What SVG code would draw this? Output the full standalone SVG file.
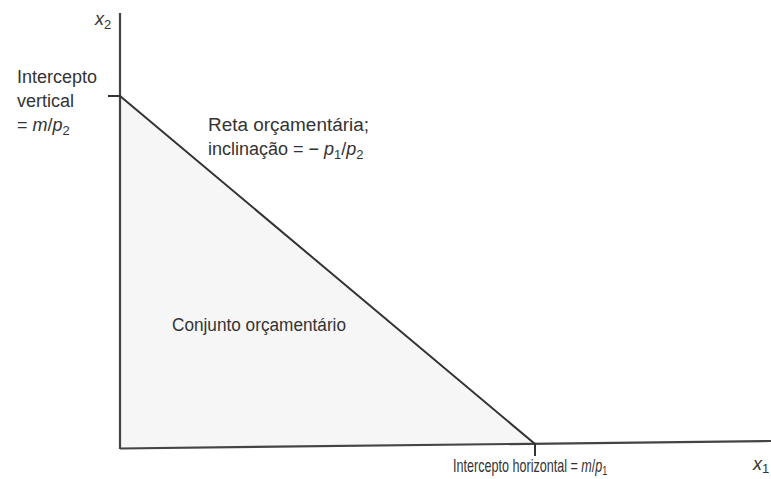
<svg xmlns="http://www.w3.org/2000/svg" width="771" height="479" viewBox="0 0 771 479">
<style>
text{font-family:"Liberation Sans",Arial,sans-serif;font-size:18px;fill:#333;}
.i{font-style:italic;}
.s{font-size:13px;}
.ax{stroke:#444;stroke-width:2.2;fill:none;}
.bl{stroke:#333;stroke-width:2;fill:none;}
</style>
<rect width="771" height="479" fill="#fff"/>
<g id="set">
<polygon points="120,96 535,444 120,448" fill="#f6f6f6"/>
<text x="172" y="331" textLength="174" lengthAdjust="spacingAndGlyphs">Conjunto orçamentário</text>
</g>
<g id="connectors">
<path class="ax" d="M120,13 V449"/>
<path class="ax" d="M120,448.5 L771,441"/>
<path class="bl" d="M108,96 H120 L535,444 V456"/>
</g>
<g id="labels">
<text x="95" y="25" class="i">x<tspan dy="4" class="s" font-style="normal">2</tspan></text>
<text x="17" y="83">Intercepto</text>
<text x="17" y="107">vertical</text>
<text x="17" y="131">= <tspan class="i">m</tspan>/<tspan class="i">p</tspan><tspan dy="4" class="s">2</tspan></text>
<text x="208" y="131" textLength="161" lengthAdjust="spacingAndGlyphs">Reta orçamentária;</text>
<text x="208" y="155">inclinação = − <tspan class="i">p</tspan><tspan dy="4" class="s">1</tspan><tspan dy="-4">/</tspan><tspan class="i">p</tspan><tspan dy="4" class="s">2</tspan></text>
<text transform="translate(453,472) scale(0.7,1)" x="0" y="0" font-size="17">Intercepto horizontal = <tspan class="i">m</tspan>/<tspan class="i">p</tspan><tspan dy="3" class="s">1</tspan></text>
<text x="753" y="470" class="i">x<tspan dy="3" class="s" font-style="normal">1</tspan></text>
</g>
</svg>
